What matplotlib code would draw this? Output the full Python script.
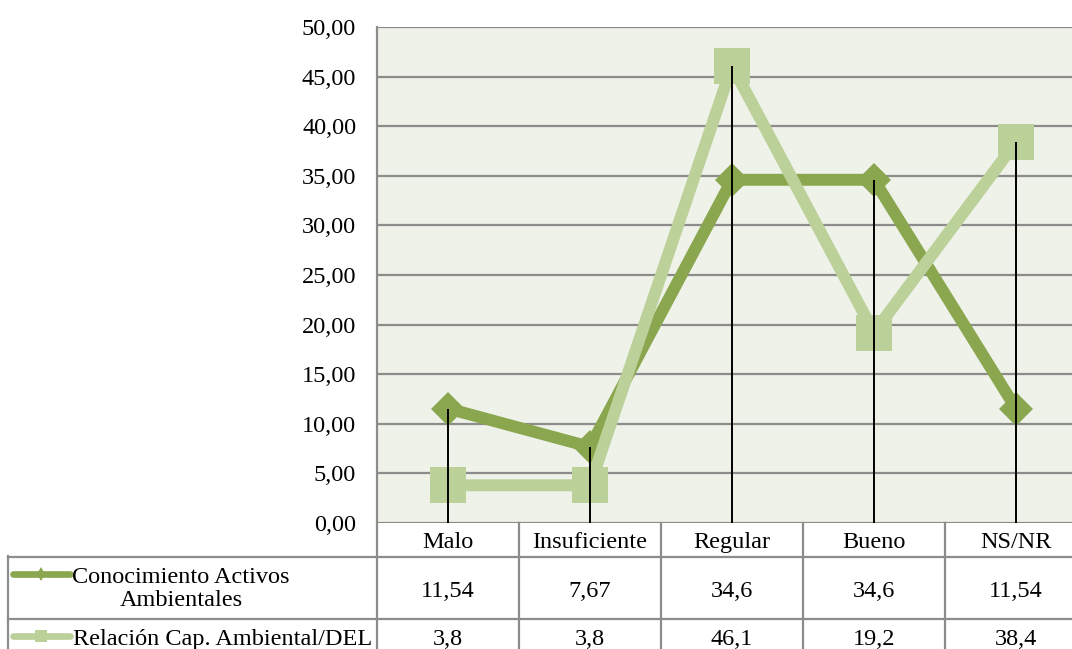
import matplotlib
matplotlib.use("Agg")
import matplotlib.pyplot as plt
from matplotlib.transforms import Affine2D, blended_transform_factory
from matplotlib.lines import Line2D

categories = ["Malo", "Insuficiente", "Regular", "Bueno", "NS/NR"]
series_names = ["Conocimiento Activos\nAmbientales", "Relación Cap. Ambiental/DEL"]
conocimiento = [11.54, 7.67, 34.6, 34.6, 11.54]
relacion = [3.8, 3.8, 46.1, 19.2, 38.4]
yticks = [0, 5, 10, 15, 20, 25, 30, 35, 40, 45, 50]

plt.rcParams['font.family'] = ['Liberation Serif', 'DejaVu Serif']
FS = 17.5

W, H = 1072, 649
fig = plt.figure(figsize=(W / 100, H / 100), dpi=100)

# axes in pixel layout (top-left origin)
L, R, T, B = 377, 1087, 27, 523
ax = fig.add_axes([L / W, (H - B) / H, (R - L) / W, (B - T) / H])

dark = "#8AA64E"
light = "#BBD199"
grid = "#8C8C8C"
bg = "#EFF2E9"

ax.set_facecolor(bg)
x = list(range(len(categories)))
ax.set_xlim(-0.5, len(categories) - 0.5)
ax.set_ylim(0, 50)
ax.set_yticks(yticks)
ax.set_yticklabels([f"{v:.2f}".replace(".", ",") for v in yticks], fontsize=FS)
ax.tick_params(axis="y", length=0, pad=15)
ax.set_xticks([])
for s in ["top", "right", "bottom"]:
    ax.spines[s].set_visible(False)
ax.spines["left"].set_color(grid)
ax.spines["left"].set_linewidth(1.6)
ax.yaxis.grid(True, color=grid, linewidth=1.6)
ax.set_axisbelow(True)
ax.axhline(0, color=grid, linewidth=2, zorder=1)

ax.plot(x, conocimiento, color=dark, linewidth=8.6, marker="D", markersize=17.5,
        markeredgewidth=0, solid_joinstyle="miter", zorder=3)
ax.plot(x, relacion, color=light, linewidth=8.6, marker="s", markersize=26.5,
        markeredgewidth=0, solid_joinstyle="miter", zorder=4)

# drop lines
for xi, a, b in zip(x, conocimiento, relacion):
    ax.vlines(xi, 0, max(a, b), color="black", linewidth=1.4, zorder=5)

# ---- data table ----
pix = Affine2D().scale(1 / W, -1 / H).translate(0, 1) + fig.transFigure
colpix = blended_transform_factory(ax.transData, pix)

lw_t = 1.6
for yy in [557, 619]:
    fig.add_artist(Line2D([8, 1090], [yy, yy], transform=pix, color=grid, linewidth=lw_t))
fig.add_artist(Line2D([8, 8], [556, 700], transform=pix, color=grid, linewidth=lw_t))
for k in range(len(categories) + 1):
    xb = k - 0.5
    fig.add_artist(Line2D([xb, xb], [523, 700], transform=colpix, color=grid, linewidth=lw_t))

# header
for xi, c in zip(x, categories):
    fig.text(xi, 540, c, transform=colpix, ha="center", va="center_baseline", fontsize=FS)

# rows
row_centers = [589, 637]
for vals, yc in zip([conocimiento, relacion], row_centers):
    for xi, v in zip(x, vals):
        fig.text(xi, yc, str(v).replace(".", ","), transform=colpix,
                 ha="center", va="center_baseline", fontsize=FS)

# row labels with legend keys
fig.text(181, 589, series_names[0], transform=pix, ha="center", va="center",
         fontsize=FS, multialignment="center", linespacing=1.07)
fig.text(73, 637, series_names[1], transform=pix, ha="left", va="center_baseline", fontsize=FS)
fig.add_artist(Line2D([13, 70], [574, 574], transform=pix, color=dark, linewidth=4.8,
                      solid_capstyle="round"))
fig.add_artist(Line2D([41], [574], transform=pix, color=dark, marker="d", markersize=7.6,
                      markeredgewidth=0))
fig.add_artist(Line2D([13, 70], [636, 636], transform=pix, color=light, linewidth=4.8,
                      solid_capstyle="round"))
fig.add_artist(Line2D([41], [636], transform=pix, color=light, marker="s", markersize=8.5,
                      markeredgewidth=0))

fig.savefig("out.png", dpi=100)
